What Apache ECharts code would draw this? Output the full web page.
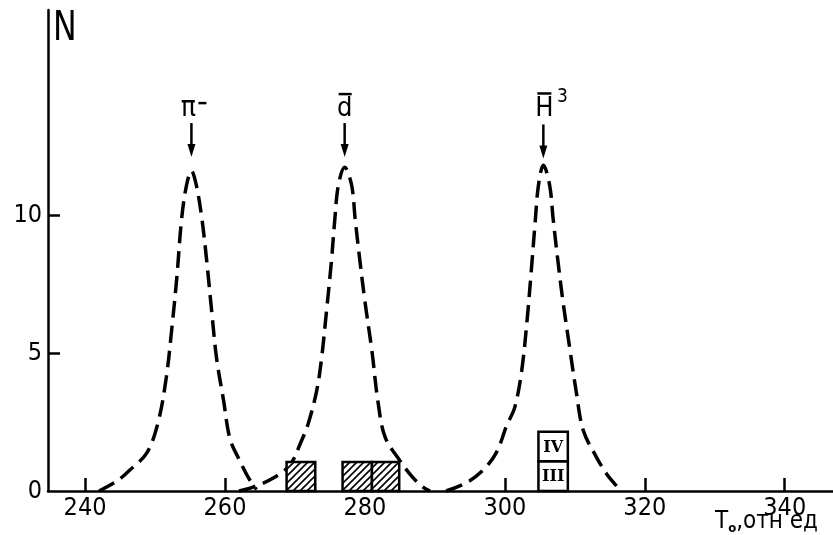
<!DOCTYPE html>
<html>
<head>
<meta charset="utf-8">
<script src="https://cdn.jsdelivr.net/npm/echarts@6/dist/echarts.min.js"></script>
<style>html,body{margin:0;padding:0;background:#fff}#c{width:833px;height:535px}</style>
</head>
<body>
<div id="c"></div>
<script>
// ---- data ----
const xTicks = [240, 260, 280, 300, 320, 340];
const yTicks = [0, 5, 10];
const piCurve = [[242,0],[244.5,0.35],[246.4,0.76],[248.8,1.37],[250.4,2.45],[251.6,4.1],[252.4,5.9],[253.1,7.7],[253.8,9.86],[254.5,11.08],[255.2,11.6],[255.9,11.08],[256.7,9.86],[257.4,8.3],[258.1,6.5],[258.8,4.8],[259.8,3.27],[260.7,1.9],[262.1,1.1],[263.3,0.5],[264.5,0.05]];
const dCurve = [[262,0],[264,0.14],[266.9,0.47],[269.3,0.95],[270.9,1.8],[271.9,2.45],[273.1,3.63],[273.8,4.8],[274.5,6.5],[275.2,8.3],[275.7,9.86],[276.2,11.08],[277.1,11.73],[278.1,11.08],[278.6,9.86],[279.3,8.3],[280,6.87],[281,5.07],[281.9,3.17],[282.9,1.94],[285,1.1],[286.8,0.5],[288.3,0.14],[289.3,0]];
const h3Curve = [[291.6,0],[294.5,0.3],[296.9,0.76],[298.8,1.4],[300.3,2.4],[301.4,3.02],[302.4,4.35],[303.2,6.26],[303.8,8.06],[304.3,9.64],[304.8,11.08],[305.5,11.8],[306.4,11.08],[306.9,9.86],[307.6,8.3],[308.3,6.87],[309.2,5.3],[310.2,3.6],[311.2,2.2],[313.1,1.22],[314.6,0.6],[315.9,0.2],[316.5,0]];
// hatched bins: [start, end, bottom, top]
const hatchedBins = [[268.8,272.9,0,1.05],[276.8,281.0,0,1.05],[281.0,284.9,0,1.05]];
// outlined bins with roman labels: [start, end, bottom, top]
const openBins = [[304.8,309.0,0,1.08],[304.8,309.0,1.08,2.15]];
const openLabels = ['III', 'IV'];
// peak annotations: x position, arrow tip height
const annX = [255.2, 277.1, 305.5];
const annTip = [12.1, 12.1, 12.05];
const annNames = ['pi', 'd', 'H3'];

const FONT = "'DejaVu Sans Condensed','DejaVu Sans',sans-serif";

// hatch pattern
const hc = document.createElement('canvas');
hc.width = 7; hc.height = 7;
const hx = hc.getContext('2d');
hx.fillStyle = '#fff'; hx.fillRect(0,0,7,7);
hx.strokeStyle = '#000'; hx.lineWidth = 1.6;
hx.beginPath();
hx.moveTo(0,7); hx.lineTo(7,0);
hx.moveTo(-3.5,3.5); hx.lineTo(3.5,-3.5);
hx.moveTo(3.5,10.5); hx.lineTo(10.5,3.5);
hx.stroke();

const chart = echarts.init(document.getElementById('c'), null, {renderer: 'canvas'});

function curveSeries(data) {
  return {
    type: 'line', data: data, smooth: 0.35, symbol: 'none', silent: true,
    lineStyle: {color: '#000', width: 3.5, type: [17, 8], cap: 'butt'},
    z: 3
  };
}

function boxItem(params, api, hatched, label) {
  const p0 = api.coord([api.value(0), api.value(2)]);
  const p1 = api.coord([api.value(1), api.value(3)]);
  const rect = {x: p0[0], y: p1[1], width: p1[0] - p0[0], height: p0[1] - p1[1]};
  const children = [{
    type: 'rect', shape: rect,
    style: {fill: hatched ? {image: hc, repeat: 'repeat'} : '#fff', stroke: '#000', lineWidth: 2.5}
  }];
  if (label) {
    const cx = rect.x + rect.width / 2, cy = rect.y + rect.height / 2;
    children.push({type: 'text', style: {text: label, x: cx, y: cy + 1, align: 'center', verticalAlign: 'middle',
      font: "bold 16px 'DejaVu Serif','Liberation Serif',serif", fill: '#000'}});
  }
  return {type: 'group', children: children};
}

function annItem(params, api) {
  const i = params.dataIndex;
  const p = api.coord([api.value(0), api.value(1)]);
  const x = p[0], y = p[1];
  const ch = [];
  ch.push({type: 'line', shape: {x1: x, y1: y - 34, x2: x, y2: y - 10}, style: {stroke: '#000', lineWidth: 2.5}});
  ch.push({type: 'polygon', shape: {points: [[x - 4, y - 13], [x + 4, y - 13], [x, y]]}, style: {fill: '#000'}});
  const name = annNames[i];
  const txt = (t, tx, ty, size) => ({type: 'text', style: {text: t, x: tx, y: ty, align: 'center', verticalAlign: 'bottom', font: size + 'px ' + FONT, fill: '#000'}});
  if (name === 'pi') {
    ch.push(txt('π', x - 3, y - 34, 28));
    ch.push({type: 'line', shape: {x1: x + 7, y1: y - 54, x2: x + 15, y2: y - 54}, style: {stroke: '#000', lineWidth: 2.5}});
  } else if (name === 'd') {
    ch.push(txt('d', x, y - 35, 27));
    ch.push({type: 'line', shape: {x1: x - 6, y1: y - 63, x2: x + 7, y2: y - 63}, style: {stroke: '#000', lineWidth: 2.5}});
  } else {
    ch.push(txt('H', x + 1, y - 36, 27));
    ch.push(txt('3', x + 19, y - 52, 19));
    ch.push({type: 'line', shape: {x1: x - 6, y1: y - 65, x2: x + 8, y2: y - 65}, style: {stroke: '#000', lineWidth: 2.5}});
  }
  return {type: 'group', children: ch};
}

chart.setOption({
  animation: false,
  backgroundColor: '#fff',
  grid: {left: 48, right: 0, top: 10, bottom: 44},
  xAxis: {
    type: 'value', min: 234.7, max: 346.9,
    axisLine: {show: true, onZero: false, lineStyle: {color: '#000', width: 2.5}},
    axisTick: {show: true, inside: true, length: 13, lineStyle: {color: '#000', width: 2.5}, customValues: xTicks},
    axisLabel: {customValues: xTicks, color: '#000', fontSize: 25, fontFamily: FONT, margin: 5},
    splitLine: {show: false}
  },
  yAxis: {
    type: 'value', min: 0, max: 17.43,
    axisLine: {show: true, lineStyle: {color: '#000', width: 2.5}},
    axisTick: {show: true, inside: true, length: 12, lineStyle: {color: '#000', width: 2.5}, customValues: [5, 10]},
    axisLabel: {customValues: yTicks, color: '#000', fontSize: 25, fontFamily: FONT, margin: 6},
    splitLine: {show: false}
  },
  graphic: [
    {type: 'text', left: 53, top: 10, scaleX: 0.88, style: {text: 'N', font: '40px ' + FONT, fill: '#000'}},
    {type: 'text', right: 15, bottom: 0, style: {text: 'T{s|o},отн ед', font: '24px ' + FONT, fill: '#000',
      rich: {s: {fontSize: 13, fontFamily: FONT, fontWeight: 'bold', padding: [13, 0, 0, 0]}}}}
  ],
  series: [
    curveSeries(piCurve), curveSeries(dCurve), curveSeries(h3Curve),
    {type: 'custom', data: hatchedBins, clip: false, z: 4, encode: {x: [0, 1], y: [2, 3]},
      renderItem: (params, api) => boxItem(params, api, true, '')},
    {type: 'custom', data: openBins, clip: false, z: 4, encode: {x: [0, 1], y: [2, 3]},
      renderItem: (params, api) => boxItem(params, api, false, openLabels[params.dataIndex])},
    {type: 'custom', data: annX.map((v, i) => [v, annTip[i]]), clip: false, z: 5, encode: {x: 0, y: 1},
      renderItem: annItem}
  ]
});
</script>
</body>
</html>
